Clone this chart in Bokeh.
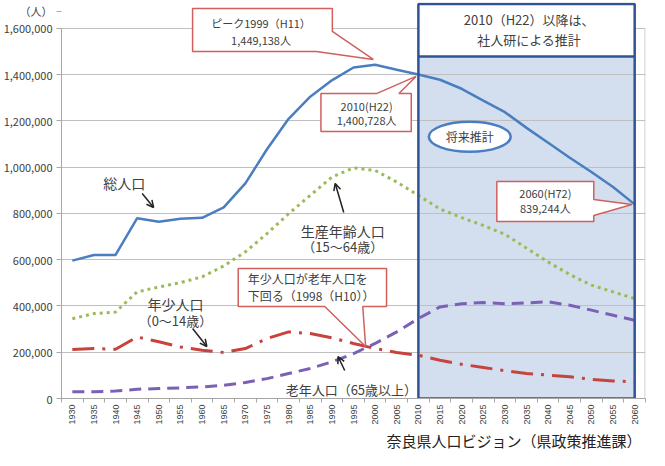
from math import pi
from bokeh.plotting import figure
from bokeh.models import (ColumnDataSource, FixedTicker, NumeralTickFormatter,
                          Label, Arrow, OpenHead, Range1d, Title)
from bokeh.embed import file_html
from bokeh.resources import INLINE

# ---------------- data ----------------
years = ["1930", "1935", "1940", "1945", "1950", "1955", "1960", "1965", "1970",
         "1975", "1980", "1985", "1990", "1995", "2000", "2005", "2010", "2015",
         "2020", "2025", "2030", "2035", "2040", "2045", "2050", "2055", "2060"]
total = [596225, 620471, 620509, 779685, 763883, 776861, 781058, 825965, 930160,
         1077491, 1209365, 1304866, 1375481, 1430862, 1442795, 1421310, 1400728,
         1378000, 1339000, 1288000, 1238000, 1170000, 1106000, 1041000, 979000,
         914000, 839244]
working = [345000, 367000, 374000, 461000, 482000, 501000, 526000, 573000, 634000,
           713000, 799000, 878000, 957000, 997000, 986000, 936000, 878000, 819000,
           782000, 748000, 710000, 650000, 590000, 536000, 490000, 461000, 432000]
children = [212000, 216000, 213000, 266000, 245000, 223000, 209000, 199000, 216000,
            259000, 288000, 281000, 262000, 238000, 216000, 199000, 187000, 165000,
            148000, 134000, 120000, 108000, 101000, 94000, 83000, 76000, 72000]
elderly = [29000, 29000, 32000, 40000, 43000, 46000, 50000, 57000, 69000,
           86000, 108000, 130000, 158000, 194000, 238000, 288000, 346000, 396000,
           410000, 415000, 410000, 413000, 418000, 403000, 382000, 360000, 338000]
y_ticks = [0, 200000, 400000, 600000, 800000, 1000000, 1200000, 1400000, 1600000]
unit_label = "（人）"
unit_pos = 1675000
proj_start, proj_end = "2010", "2060"
source_note = "奈良県人口ビジョン（県政策推進課）"

JP = "Noto Sans CJK JP"
TXT = "#404040"


# reference-pixel -> data mapping, used only to place annotations
def X(px):
    return (px - 56.5) / 22.75


def Y(py):
    return (410 - py) * 1600000 / 370


xs = list(range(len(years)))
src = ColumnDataSource(dict(x=xs, total=total, working=working,
                            children=children, elderly=elderly))

Y_TOP = 1712000
p = figure(width=649, height=450,
           x_range=Range1d(-0.5, len(years) - 0.5), y_range=Range1d(0, Y_TOP),
           output_backend="svg", toolbar_location=None,
           min_border_left=60, min_border_right=4, min_border_top=2,
           min_border_bottom=10)
p.outline_line_color = None
p.xgrid.visible = False
p.ygrid.ticker = FixedTicker(ticks=y_ticks)
p.ygrid.grid_line_color = "#BFBFBF"
p.ygrid.grid_line_width = 1

# y axis (the unit label sits on an extra tick above the top gridline)
p.yaxis.ticker = FixedTicker(ticks=y_ticks + [unit_pos])
p.yaxis.formatter = NumeralTickFormatter(format="0,0")
p.yaxis.major_label_overrides = {unit_pos: unit_label}
p.yaxis.bounds = (0, y_ticks[-1])
p.yaxis.axis_line_color = "#A6A6A6"
p.yaxis.major_tick_line_color = "#A6A6A6"
p.yaxis.major_tick_out = 5
p.yaxis.major_tick_in = 0
p.yaxis.minor_tick_line_color = None
p.yaxis.major_label_text_font = JP
p.yaxis.major_label_text_font_size = "11px"
p.yaxis.major_label_text_color = "#404040"
p.yaxis.major_label_standoff = 4

# x axis
p.xaxis.ticker = FixedTicker(ticks=xs, minor_ticks=[i - 0.5 for i in range(len(years) + 1)])
p.xaxis.major_label_overrides = {i: y for i, y in enumerate(years)}
p.xaxis.major_label_orientation = pi / 2
p.xaxis.axis_line_color = "#A6A6A6"
p.xaxis.major_tick_line_color = None
p.xaxis.major_tick_out = 0
p.xaxis.major_tick_in = 0
p.xaxis.minor_tick_line_color = "#A6A6A6"
p.xaxis.minor_tick_out = 4
p.xaxis.minor_tick_in = 0
p.xaxis.major_label_text_font = "Liberation Sans"
p.xaxis.major_label_text_font_size = "9px"
p.xaxis.major_label_text_color = "#404040"
p.xaxis.major_label_standoff = 2
p.xaxis.axis_label_standoff = 0

# source note below the axis
p.add_layout(Title(text=source_note, align="right", text_font=JP,
                   text_font_size="15px", text_font_style="normal",
                   text_color="#222222", standoff=0, offset=4), "below")

# right border of plot area
p.segment(x0=[len(years) - 0.52], y0=[0], x1=[len(years) - 0.52], y1=[y_ticks[-1]],
          line_color="#BFBFBF", line_width=1)

# projection box
i0, i1 = years.index(proj_start), years.index(proj_end)
sep = Y(68)
box_top = Y_TOP - 6000
p.quad(left=[i0], right=[i1], bottom=[0], top=[sep], fill_color="#D3DEEE",
       line_color=None, level="image")
p.quad(left=[i0], right=[i1], bottom=[sep], top=[box_top], fill_color="white",
       line_color=None)

# series
p.line("x", "total", source=src, line_color="#4A7EC0", line_width=2.5)
p.line("x", "working", source=src, line_color="#9BBB59", line_width=3, line_dash="3 4")
p.line("x", "children", source=src, line_color="#C9433D", line_width=3,
       line_dash="22 8 3 8")
p.line("x", "elderly", source=src, line_color="#7B61B5", line_width=3, line_dash="12 7")

# projection box border
p.quad(left=[i0], right=[i1], bottom=[0], top=[box_top], fill_color=None,
       line_color="#2F5496", line_width=2.5)
p.segment(x0=[i0], y0=[sep], x1=[i1], y1=[sep], line_color="#2F5496", line_width=2.5)


def txt(px, py, s, size, align="center", color=TXT, font=JP):
    p.add_layout(Label(x=X(px), y=Y(py), text=s, text_font=font,
                       text_font_size=f"{size}px", text_align=align,
                       text_baseline="middle", text_color=color))


def callout(pts):
    p.patch([X(a) for a, b in pts], [Y(b) for a, b in pts], fill_color="white",
            line_color="#D0605E", line_width=1.5)


def arrow(x0, y0, x1, y1):
    p.add_layout(Arrow(end=OpenHead(size=7, line_width=1.5, line_color="#222222"),
                       x_start=X(x0), y_start=Y(y0), x_end=X(x1), y_end=Y(y1),
                       line_width=1.5, line_color="#222222"))


# header text of projection box
txt(537, 31, "2010（H22）以降は、", 13)
txt(537, 51, "社人研による推計", 13)

# ellipse
p.ellipse(x=[X(474.5)], y=[Y(148.3)], width=[86 / 22.75], height=[30 * 1600000 / 370],
          fill_color="white", line_color="#4A7EC0", line_width=2.5)
txt(474.5, 148.3, "将来推計", 12)

# callouts
callout([(183, 20), (330, 20), (330, 43), (373, 71), (313, 63), (183, 63)])
txt(255, 35, "ピーク1999（H11）", 11)
txt(255, 52, "1,449,138人", 11)

callout([(318, 105), (377, 105), (418, 88), (400, 105), (413, 105), (413, 143), (318, 143)])
txt(366, 118, "2010(H22)", 11)
txt(366, 132, "1,400,728人", 11)

callout([(503, 193), (605, 193), (605, 211), (645, 216), (605, 227), (605, 233), (503, 233)])
txt(554, 205, "2060(H72)", 11)
txt(554, 220, "839,244人", 11)

callout([(231, 280), (387, 280), (387, 318), (362, 318), (365, 358), (322, 318), (231, 318)])
txt(241, 290, "年少人口が老年人口を", 12, align="left")
txt(241, 307, "下回る（1998（H10））", 12, align="left")

# series labels with arrows
txt(111, 195, "総人口", 14)
arrow(130, 205, 142, 219)

txt(341, 243, "生産年齢人口", 14)
txt(341, 258, "（15〜64歳）", 13)
arrow(342, 224, 333, 195)

txt(165, 316, "年少人口", 14)
txt(165, 332, "（0〜14歳）", 13)
arrow(183, 340, 198, 358)

txt(350, 401, "老年人口（65歳以上）", 13)
arrow(343, 382, 336, 368)

open("out.html", "w").write(file_html(p, INLINE))
